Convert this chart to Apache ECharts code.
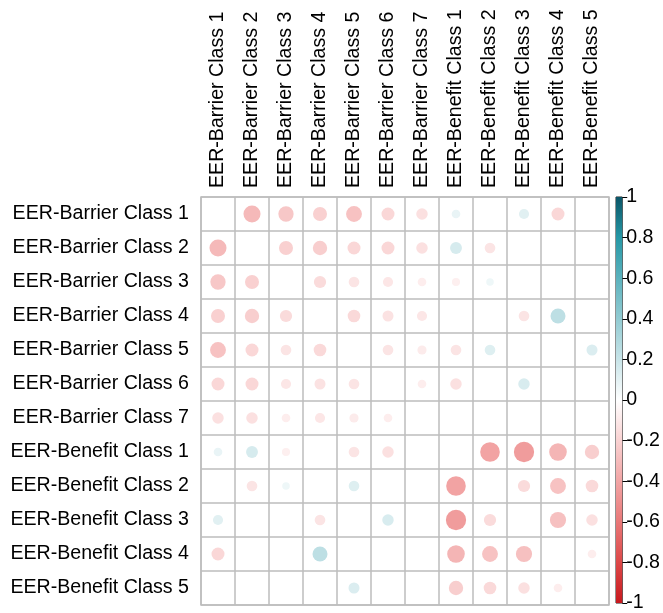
<!DOCTYPE html>
<html>
<head>
<meta charset="utf-8">
<script src="https://cdn.jsdelivr.net/npm/echarts@6/dist/echarts.min.js"></script>
<style>
  html, body { margin: 0; padding: 0; background: #fff; }
  #chart { width: 663px; height: 613px; }
</style>
</head>
<body>
<div id="chart"></div>
<script>
// Variable names, in row/column order
const variables = [
  'EER-Barrier Class 1', 'EER-Barrier Class 2', 'EER-Barrier Class 3',
  'EER-Barrier Class 4', 'EER-Barrier Class 5', 'EER-Barrier Class 6',
  'EER-Barrier Class 7', 'EER-Benefit Class 1', 'EER-Benefit Class 2',
  'EER-Benefit Class 3', 'EER-Benefit Class 4', 'EER-Benefit Class 5'
];

// Correlation matrix (0 = not shown; diagonal left blank)
const corrRows = [
  [ 0.00, -0.31, -0.25, -0.21, -0.27, -0.18, -0.14,  0.08,  0.00,  0.11, -0.18,  0.00],
  [-0.31,  0.00, -0.21, -0.22, -0.18, -0.18, -0.14,  0.15, -0.12,  0.00,  0.00,  0.00],
  [-0.25, -0.21,  0.00, -0.16, -0.12, -0.11, -0.08, -0.07,  0.06,  0.00,  0.00,  0.00],
  [-0.21, -0.22, -0.16,  0.00, -0.17, -0.13, -0.11,  0.00,  0.00, -0.12,  0.24,  0.00],
  [-0.27, -0.18, -0.12, -0.17,  0.00, -0.12, -0.09, -0.12,  0.12,  0.00,  0.00,  0.13],
  [-0.18, -0.18, -0.11, -0.13, -0.12,  0.00, -0.08, -0.14,  0.00,  0.14,  0.00,  0.00],
  [-0.14, -0.14, -0.08, -0.11, -0.09, -0.08,  0.00,  0.00,  0.00,  0.00,  0.00,  0.00],
  [ 0.08,  0.15, -0.07,  0.00, -0.12, -0.14,  0.00,  0.00, -0.41, -0.44, -0.33, -0.22],
  [ 0.00, -0.12,  0.06,  0.00,  0.12,  0.00,  0.00, -0.41,  0.00, -0.16, -0.27, -0.17],
  [ 0.11,  0.00,  0.00, -0.12,  0.00,  0.14,  0.00, -0.44, -0.16,  0.00, -0.28, -0.14],
  [-0.18,  0.00,  0.00,  0.24,  0.00,  0.00,  0.00, -0.33, -0.27, -0.28,  0.00, -0.08],
  [ 0.00,  0.00,  0.00,  0.00,  0.13,  0.00,  0.00, -0.22, -0.17, -0.14, -0.08,  0.00]
];

// Diverging palette from -1 to 1 in steps of 0.2
const palette = [
  '#c8191e', '#dd4848', '#e97878', '#f2a5a5', '#f9d2d2', '#ffffff',
  '#c8e4e8', '#92cbd2', '#5cb2bd', '#2698a6', '#0b5567'
];

const FONT = "'Liberation Sans', Arial, sans-serif";
const LABEL_SIZE = 19.6;
const GRID = { left: 201, top: 197, width: 408, height: 408 };
const cell = GRID.height / variables.length;

// One point per non-zero correlation: [column, row, value]
const points = [];
corrRows.forEach((row, i) => {
  row.forEach((v, j) => {
    if (v !== 0) points.push([j, i, v]);
  });
});

// Gradients for the colour bar, built from the same palette
const upperStops = palette.slice(5).reverse().map((c, k, arr) => ({ offset: k / (arr.length - 1), color: c }));
const lowerStops = palette.slice(0, 6).reverse().map((c, k, arr) => ({ offset: k / (arr.length - 1), color: c }));

const chart = echarts.init(document.getElementById('chart'), null, { renderer: 'canvas' });
chart.setOption({
  backgroundColor: '#ffffff',
  animation: false,
  textStyle: { fontFamily: FONT },
  grid: [
    { left: GRID.left, top: GRID.top, width: GRID.width, height: GRID.height,
      show: true, borderColor: '#bdbdbd', borderWidth: 1.5, backgroundColor: '#fff' },
    { left: 616, top: GRID.top, width: 15, height: GRID.height,
      show: true, borderColor: '#222', borderWidth: 1 }
  ],
  xAxis: [
    {
      gridIndex: 0, type: 'category', data: variables, position: 'top',
      axisLine: { show: false }, axisTick: { show: false },
      axisLabel: { rotate: -90, fontSize: LABEL_SIZE, color: '#000', margin: 9, fontFamily: FONT, interval: 0 },
      splitLine: { show: true, interval: 0, lineStyle: { color: '#bdbdbd', width: 1.5 } }
    },
    { gridIndex: 1, type: 'category', data: ['bar'], show: false }
  ],
  yAxis: [
    {
      gridIndex: 0, type: 'category', data: variables, inverse: true,
      axisLine: { show: false }, axisTick: { show: false },
      axisLabel: { fontSize: LABEL_SIZE, color: '#000', margin: 12, fontFamily: FONT, interval: 0 },
      splitLine: { show: true, interval: 0, lineStyle: { color: '#bdbdbd', width: 1.5 } }
    },
    {
      gridIndex: 1, type: 'value', min: -1, max: 1, interval: 0.2, position: 'right',
      axisLine: { show: false },
      axisTick: { show: true, length: 5, lineStyle: { color: '#000', width: 1 } },
      axisLabel: { fontSize: LABEL_SIZE, color: '#000', margin: 4, fontFamily: FONT,
        formatter: v => String(Math.round(v * 10) / 10) },
      splitLine: { show: false }
    }
  ],
  visualMap: {
    type: 'continuous', show: false, min: -1, max: 1, dimension: 2, seriesIndex: 0,
    inRange: { color: palette }
  },
  series: [
    {
      type: 'scatter', xAxisIndex: 0, yAxisIndex: 0, data: points,
      symbol: 'circle',
      symbolSize: d => cell * 0.9 * Math.sqrt(Math.abs(d[2])),
      itemStyle: { opacity: 1 }
    },
    {
      type: 'bar', xAxisIndex: 1, yAxisIndex: 1, data: [1], barWidth: '100%', barGap: '-100%',
      itemStyle: { color: new echarts.graphic.LinearGradient(0, 0, 0, 1, upperStops) },
      silent: true
    },
    {
      type: 'bar', xAxisIndex: 1, yAxisIndex: 1, data: [-1], barWidth: '100%', barGap: '-100%',
      itemStyle: { color: new echarts.graphic.LinearGradient(0, 0, 0, 1, lowerStops) },
      silent: true
    }
  ]
});
</script>
</body>
</html>
